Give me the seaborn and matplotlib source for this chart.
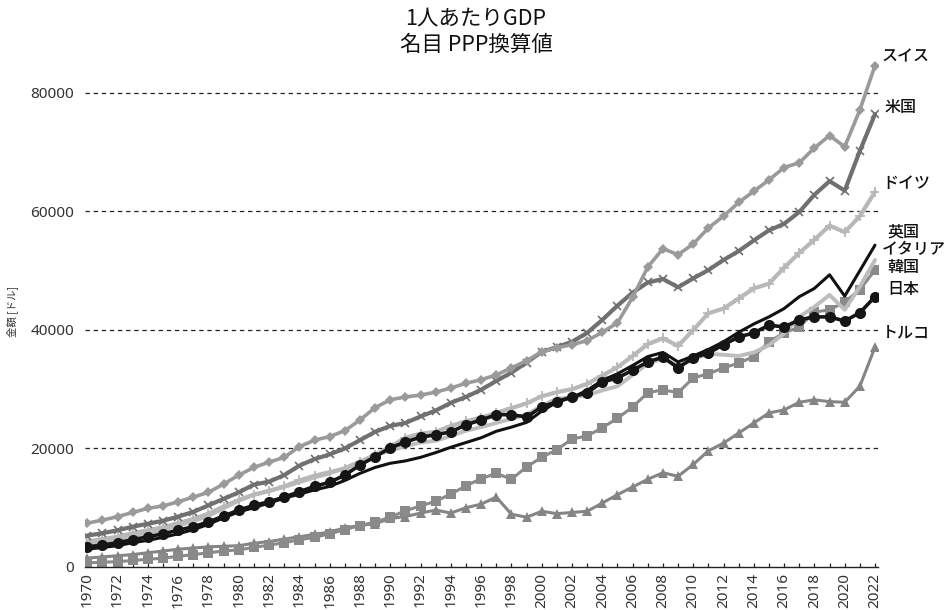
import matplotlib
matplotlib.use("Agg")
import matplotlib.pyplot as plt
import numpy as np
import pandas as pd
import seaborn as sns

# ---- data: GDP per capita, PPP (current international $) ----
years = list(range(1970, 2023))

switzerland = [7400, 7900, 8500, 9200, 9900, 10300, 11000, 11800, 12600, 14000,
               15500, 16800, 17700, 18500, 20300, 21400, 22000, 23000, 24800, 26900,
               28200, 28700, 29000, 29500, 30200, 31000, 31600, 32400, 33600, 34800,
               36300, 37000, 37500, 38200, 39600, 41200, 45500, 50600, 53700, 52700,
               54500, 57200, 59200, 61500, 63400, 65300, 67400, 68200, 70700, 72800,
               70900, 77100, 84600]
usa = [5300, 5700, 6200, 6800, 7300, 7800, 8500, 9300, 10400, 11500,
       12600, 13900, 14400, 15500, 17100, 18200, 19000, 20000, 21400, 22800,
       23800, 24300, 25400, 26400, 27700, 28700, 29900, 31400, 32800, 34500,
       36300, 37100, 38000, 39500, 41700, 44100, 46300, 48000, 48600, 47200,
       48700, 50100, 51800, 53300, 55100, 56800, 57900, 59900, 62800, 65100,
       63500, 70200, 76400]
germany = [4300, 4700, 5100, 5700, 6200, 6700, 7400, 8100, 9000, 10200,
           11300, 12200, 12800, 13600, 14600, 15400, 16000, 16600, 17700, 18900,
           20300, 21800, 22500, 22800, 23800, 24600, 25200, 26000, 26800, 27600,
           28800, 29500, 30000, 30900, 32300, 33700, 35600, 37600, 38600, 37300,
           40000, 42800, 43600, 45300, 47000, 47800, 50500, 53000, 55200, 57600,
           56500, 59200, 63300]
uk = [3000, 3300, 3600, 4100, 4500, 5000, 5600, 6300, 7200, 8300,
      9300, 10000, 10800, 11600, 12300, 13000, 13600, 14600, 15800, 16800,
      17500, 17900, 18500, 19300, 20200, 21000, 21800, 22900, 23600, 24400,
      26300, 27800, 28600, 29800, 31500, 32600, 34000, 35500, 36200, 34600,
      35600, 36700, 38000, 39600, 41000, 42200, 43600, 45600, 47000, 49300,
      45700, 50000, 54300]
italy = [3900, 4200, 4600, 5200, 5800, 6200, 7000, 7700, 8600, 9900,
         11200, 12200, 12900, 13500, 14300, 15100, 15800, 16700, 17800, 18900,
         19600, 20400, 21000, 21300, 22100, 23000, 23600, 24300, 25000, 25700,
         27200, 28400, 28600, 29000, 29800, 30500, 32400, 34300, 35200, 33900,
         35000, 36000, 35800, 35600, 36200, 37400, 39400, 42200, 43900, 45900,
         43400, 47300, 51800]
korea = [700, 800, 900, 1100, 1300, 1500, 1800, 2100, 2400, 2700,
         2900, 3300, 3700, 4100, 4600, 5000, 5600, 6300, 7000, 7600,
         8400, 9500, 10300, 11100, 12300, 13700, 14900, 15800, 14800, 16900,
         18500, 19800, 21600, 22100, 23500, 25100, 27000, 29400, 29900, 29400,
         31900, 32600, 33600, 34400, 35500, 38000, 39500, 40500, 43000, 43400,
         44700, 46800, 50100]
japan = [3400, 3700, 4100, 4600, 5100, 5600, 6200, 6800, 7600, 8600,
         9600, 10400, 11000, 11800, 12700, 13600, 14300, 15500, 17200, 18600,
         20100, 21100, 21900, 22300, 22800, 24000, 24800, 25700, 25700, 25300,
         27000, 27900, 28700, 29400, 31200, 31900, 33200, 34600, 35400, 33600,
         35300, 36100, 37500, 38800, 39500, 40800, 40500, 41700, 42200, 42200,
         41500, 42900, 45600]
turkey = [1500, 1700, 1900, 2100, 2400, 2700, 3000, 3200, 3400, 3500,
          3600, 4000, 4300, 4700, 5100, 5500, 5900, 6600, 7000, 7300,
          8200, 8500, 9100, 9600, 9100, 10000, 10600, 11800, 8900, 8400,
          9400, 9000, 9200, 9400, 10800, 12200, 13500, 14800, 15900, 15300,
          17300, 19600, 20900, 22600, 24300, 26000, 26500, 27800, 28200, 27900,
          27800, 30500, 37100]

series = {
    "トルコ": turkey,
    "韓国": korea,
    "イタリア": italy,
    "ドイツ": germany,
    "英国": uk,
    "米国": usa,
    "スイス": switzerland,
    "日本": japan,
}

df = pd.concat(
    [pd.DataFrame({"year": years, "value": v, "country": k}) for k, v in series.items()],
    ignore_index=True,
)

# ---- styling per country ----
styles = {
    "トルコ":   dict(color="#858585", marker="^", markersize=7.5, linewidth=2.2, mew=0),
    "韓国":     dict(color="#8a8a8a", marker="s", markersize=7, linewidth=2.2, mew=0),
    "イタリア": dict(color="#bdbdbd", marker=None, linewidth=2.8),
    "ドイツ":   dict(color="#b8b8b8", marker="+", markersize=7, linewidth=3.0, mew=1.3),
    "英国":     dict(color="#111111", marker=None, linewidth=2.2),
    "米国":     dict(color="#707070", marker="x", markersize=6, linewidth=3.0, mew=1.2),
    "スイス":   dict(color="#9a9a9a", marker="D", markersize=5.5, linewidth=2.6, mew=0),
    "日本":     dict(color="#151515", marker="o", markersize=8, linewidth=2.6, mew=0),
}

# label offsets (points) from each series' final value
label_offsets = {
    "スイス": (5, 6), "米国": (7, 5), "ドイツ": (5, 6), "英国": (9, 9.5),
    "イタリア": (5, 7.5), "韓国": (9, 1.5), "日本": (9, 5), "トルコ": (5, 10),
}

sns.set_theme(style="white")
plt.rcParams["font.family"] = ["Noto Sans CJK JP", "DejaVu Sans"]

fig = plt.figure(figsize=(9.52, 6.10), dpi=100)
ax = fig.add_axes([0.0893, 0.0705, 0.8330, 0.8395])

for name in series:
    st = dict(styles[name])
    sub = df[df["country"] == name]
    sns.lineplot(data=sub, x="year", y="value", ax=ax, legend=False,
                 color=st.pop("color"), marker=st.pop("marker"),
                 linewidth=st.pop("linewidth"), markersize=st.pop("markersize", 0),
                 markeredgewidth=st.pop("mew", 0),
                 markeredgecolor=styles[name]["color"])

for name, vals in series.items():
    dx, dy = label_offsets[name]
    ax.annotate(name, xy=(years[-1], vals[-1]), xytext=(dx, dy),
                textcoords="offset points", ha="left", va="center",
                fontsize=11.5, fontweight="medium", color="#111111",
                annotation_clip=False)

ax.set_xlim(1969.85, 2022.2)
ax.set_ylim(0, 86400)
ax.set_xticks(range(1970, 2023, 2))
ax.set_xticks(range(1970, 2023, 1), minor=True)
ax.set_xticklabels([str(y) for y in range(1970, 2023, 2)], rotation=90,
                   fontsize=11, color="#333333", family=["Noto Sans", "DejaVu Sans"])
ax.set_yticks([0, 20000, 40000, 60000, 80000])
ax.set_yticklabels(["0", "20000", "40000", "60000", "80000"], fontsize=11,
                   color="#333333", family=["Noto Sans", "DejaVu Sans"])
ax.tick_params(axis="x", which="both", direction="in", length=3, width=0.9,
               color="#222222", pad=4, bottom=True)
ax.tick_params(axis="y", length=0, pad=8)

for v in [20000, 40000, 60000, 80000]:
    ax.axhline(v, color="#222222", linestyle=(0, (3.5, 3)), linewidth=0.9, zorder=0)

for side in ["left", "right", "top"]:
    ax.spines[side].set_visible(False)
ax.spines["bottom"].set_color("#222222")
ax.spines["bottom"].set_linewidth(1.0)

ax.set_xlabel("")
ax.set_ylabel("金額 [ドル]", fontsize=7.5, color="#333333")
ax.yaxis.set_label_coords(-0.085, 0.5)

fig.text(0.5, 0.970, "1人あたりGDP", ha="center", va="center", fontsize=15.5, color="#111111")
fig.text(0.5, 0.927, "名目 PPP換算値", ha="center", va="center", fontsize=15.5, color="#111111")

fig.savefig("out.png", dpi=100, facecolor="white")
